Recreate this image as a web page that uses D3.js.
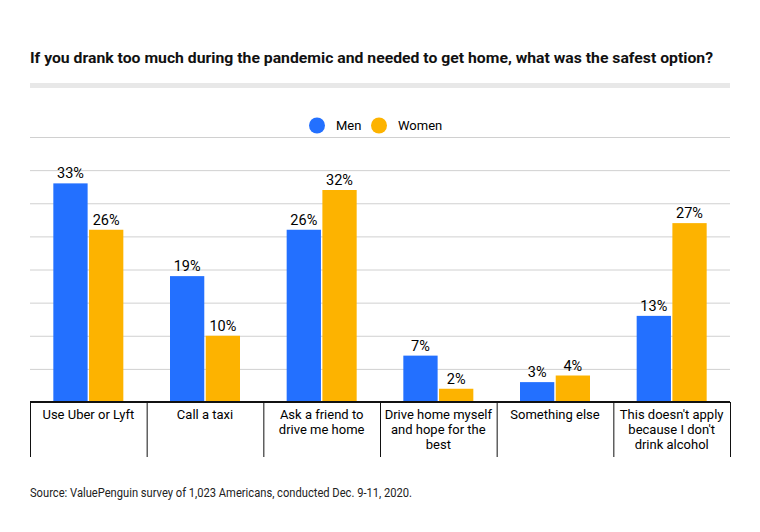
<!DOCTYPE html>
<html lang="en">
  <head>
    <meta charset="utf-8" />
    <title>Safest option to get home</title>
    <script src="https://cdn.jsdelivr.net/npm/d3@7/dist/d3.min.js"></script>
    <style>
      html, body {
        margin: 0;
        padding: 0;
        background: #fff;
      }

      svg {
        display: block;
        font-family: Roboto, "Noto Sans", sans-serif;
      }

      .grid line {
        stroke: #d0d0d0;
        stroke-width: 1;
      }

      .value-label {
        font-size: 14.5px;
        fill: #000;
        text-anchor: middle;
      }

      .cat-label {
        font-size: 13px;
        fill: #000;
        text-anchor: middle;
      }
    </style>
  </head>

  <body>
    <svg id="chart"></svg>

    <script>
      const categories = [
        "Use Uber or Lyft",
        "Call a taxi",
        "Ask a friend to\ndrive me home",
        "Drive home myself\nand hope for the\nbest",
        "Something else",
        "This doesn't apply\nbecause I don't\ndrink alcohol"
      ];
      const seriesNames = ["Men", "Women"];
      const men = [33, 19, 26, 7, 3, 13];
      const women = [26, 10, 32, 2, 4, 27];
      const gridTicks = [5, 10, 15, 20, 25, 30, 35, 40];
      const colors = ["#2370ff", "#fdb300"];

      const titleText =
        "If you drank too much during the pandemic and needed to get home, what was the safest option?";
      const sourceText = "Source: ValuePenguin survey of 1,023 Americans, conducted Dec. 9-11, 2020.";

      const W = 760;
      const H = 532;
      const margin = { top: 137, bottom: 130, left: 30, right: 30 };
      const width = W - margin.left - margin.right;
      const baseY = H - margin.bottom; // 402

      const svg = d3.select("#chart").attr("width", W).attr("height", H);

      // title + grey band
      svg
        .append("text")
        .attr("x", 30)
        .attr("y", 63)
        .attr("textLength", 683)
        .attr("lengthAdjust", "spacingAndGlyphs")
        .style("font-size", "15.5px")
        .style("font-weight", "bold")
        .style("fill", "#111")
        .text(titleText);

      svg
        .append("rect")
        .attr("x", 30)
        .attr("y", 83)
        .attr("width", width)
        .attr("height", 5)
        .attr("fill", "#e8e8e8");

      // scales
      const x0 = d3.scaleBand().domain(d3.range(categories.length)).range([margin.left, margin.left + width]);
      const x1 = d3
        .scaleBand()
        .domain(seriesNames)
        .range([x0.bandwidth() * 0.2, x0.bandwidth() * 0.8])
        .paddingInner(0.04);
      const y = d3.scaleLinear().domain([0, 40]).range([baseY, margin.top]);

      // gridlines
      const yaxis = d3
        .axisLeft(y)
        .tickValues(gridTicks)
        .tickSize(-width)
        .tickFormat("");
      const g_grid = svg
        .append("g")
        .attr("class", "grid")
        .attr("transform", `translate(${margin.left},0)`)
        .call(yaxis);
      g_grid.select(".domain").remove();

      // legend (sits on the top gridline)
      const legend = svg.append("g").attr("transform", `translate(0,${y(40) - 12})`);
      legend.append("rect").attr("x", 300).attr("y", -12).attr("width", 160).attr("height", 24).attr("fill", "#fff");
      const legendX = [317, 379];
      seriesNames.forEach((name, i) => {
        legend.append("circle").attr("cx", legendX[i]).attr("cy", 0.5).attr("r", 8).attr("fill", colors[i]);
        legend
          .append("text")
          .attr("x", legendX[i] + 19)
          .attr("y", 5)
          .style("font-size", "13px")
          .style("fill", "#000")
          .text(name);
      });

      // bars
      const rows = categories.map((c, i) => ({
        i,
        values: [
          { key: "Men", value: men[i] },
          { key: "Women", value: women[i] }
        ]
      }));

      const groups = svg
        .append("g")
        .selectAll("g")
        .data(rows)
        .join("g")
        .attr("transform", d => `translate(${x0(d.i)},0)`);

      groups
        .selectAll("rect")
        .data(d => d.values)
        .join("rect")
        .attr("x", d => x1(d.key))
        .attr("width", x1.bandwidth())
        .attr("y", d => y(d.value))
        .attr("height", d => baseY - y(d.value))
        .attr("fill", (d, i) => colors[i]);

      groups
        .selectAll(".value-label")
        .data(d => d.values)
        .join("text")
        .attr("class", "value-label")
        .attr("x", d => x1(d.key) + x1.bandwidth() / 2)
        .attr("y", d => y(d.value) - 5)
        .text(d => d.value + "%");

      // category axis: baseline, separators, wrapped labels
      const catAxis = svg.append("g");
      catAxis
        .selectAll(".sep")
        .data(d3.range(categories.length + 1))
        .join("line")
        .attr("class", "sep")
        .attr("x1", i => (i < categories.length ? x0(i) : x0(i - 1) + x0.bandwidth()) + 0.5)
        .attr("x2", i => (i < categories.length ? x0(i) : x0(i - 1) + x0.bandwidth()) + 0.5)
        .attr("y1", baseY)
        .attr("y2", baseY + 55)
        .attr("stroke", "#111")
        .attr("stroke-width", 1);

      catAxis
        .append("line")
        .attr("x1", margin.left)
        .attr("x2", margin.left + width)
        .attr("y1", baseY)
        .attr("y2", baseY)
        .attr("stroke", "#111")
        .attr("stroke-width", 2);

      catAxis
        .selectAll(".cat-label")
        .data(categories)
        .join("text")
        .attr("class", "cat-label")
        .attr("x", (d, i) => x0(i) + x0.bandwidth() / 2)
        .attr("y", baseY + 17)
        .selectAll("tspan")
        .data(d => d.split("\n"))
        .join("tspan")
        .attr("x", function() {
          return this.parentNode.getAttribute("x");
        })
        .attr("dy", (d, j) => (j === 0 ? 0 : 15))
        .text(d => d);

      // source
      svg
        .append("text")
        .attr("x", 30)
        .attr("y", 497)
        .attr("textLength", 382)
        .attr("lengthAdjust", "spacingAndGlyphs")
        .style("font-size", "12px")
        .style("fill", "#222")
        .text(sourceText);
    </script>
  </body>
</html>
